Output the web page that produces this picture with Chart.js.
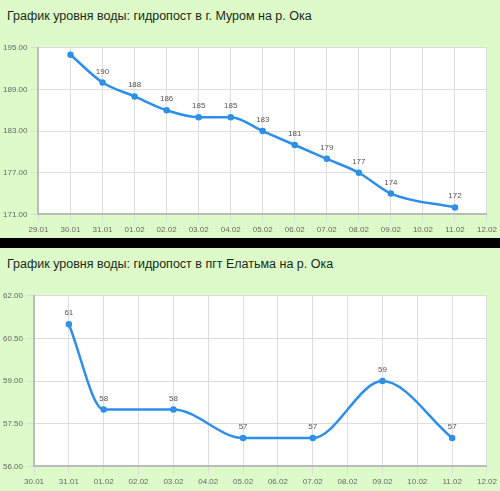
<!DOCTYPE html>
<html>
<head>
<meta charset="utf-8">
<script src="https://cdn.jsdelivr.net/npm/chart.js@4"></script>
<style>
  body { margin: 0; background: #000; font-family: Arial, "Liberation Sans", sans-serif; }
  .box { background: #dcfbc9; position: relative; width: 500px; }
  .title { position: absolute; left: 7px; font-size: 12.5px; color: #1a2a1a; }
  canvas { position: absolute; left: 0; }
</style>
</head>
<body>
<div class="box" style="height:238px">
  <div class="title" style="top:9px">График уровня воды: гидропост в г. Муром на р. Ока</div>
  <div style="position:absolute;left:0;top:40px;width:500px;height:198px"><canvas id="muromChart"></canvas></div>
</div>
<div class="box" style="height:243px;margin-top:10px">
  <div class="title" style="top:9px">График уровня воды: гидропост в пгт Елатьма на р. Ока</div>
  <div style="position:absolute;left:0;top:40px;width:500px;height:202px"><canvas id="elatmaChart"></canvas></div>
</div>
<script>
// Муром
var datyMurom = ["29.01","30.01","31.01","01.02","02.02","03.02","04.02","05.02","06.02","07.02","08.02","09.02","10.02","11.02","12.02"];
var urovenMurom = [null, 194, 190, 188, 186, 185, 185, 183, 181, 179, 177, 174, null, 172, null];
var podpisiMurom = [null, null, "190", "188", "186", "185", "185", "183", "181", "179", "177", "174", null, "172", null];

// Елатьма
var datyElatma = ["30.01","31.01","01.02","02.02","03.02","04.02","05.02","06.02","07.02","08.02","09.02","10.02","11.02","12.02"];
var urovenElatma = [null, 61, 58, null, 58, null, 57, null, 57, null, 59, null, 57, null];
var podpisiElatma = [null, "61", "58", null, "58", null, "57", null, "57", null, "59", null, "57", null];

// подписи над точками
var podpisiPlugin = {
   id: "podpisi",
   afterDatasetsDraw: function (chart) {
      var ctx = chart.ctx;
      var meta = chart.getDatasetMeta(0);
      var texts = chart.options.plugins.podpisi.texts;
      ctx.save();
      ctx.font = "8px Arial";
      ctx.fillStyle = "#555";
      ctx.textAlign = "center";
      meta.data.forEach(function (pt, i) {
         if (texts[i]) ctx.fillText(texts[i], pt.x, pt.y - 9);
      });
      ctx.restore();
   },
};

function makeChart(id, labels, data, texts, min, max, step) {
   return new Chart(document.getElementById(id).getContext("2d"), {
      type: "line",
      data: {
         labels: labels,
         datasets: [
            {
               data: data,
               borderColor: "#2e8fea",
               backgroundColor: "#2aa3c8",
               borderWidth: 2.5,
               pointRadius: 2,
               cubicInterpolationMode: "monotone",
               spanGaps: true,
               fill: false,
            },
         ],
      },
      options: {
         responsive: true,
         maintainAspectRatio: false,
         animation: false,
         layout: { padding: { right: 12, left: 0 } },
         scales: {
            x: {
               offset: false,
               grid: { color: "#ddd" },
               border: { color: "#bbb", width: 2 },
               ticks: { color: "#666", font: { size: 8 }, maxRotation: 0, autoSkip: false },
            },
            y: {
               min: min,
               max: max,
               grid: { color: "#ddd" },
               border: { color: "#bbb", width: 2 },
               ticks: {
                  stepSize: step,
                  color: "#666",
                  font: { size: 8 },
                  callback: function (v) { return v.toFixed(2); },
               },
            },
         },
         plugins: {
            legend: { display: false },
            tooltip: { enabled: false },
            podpisi: { texts: texts },
         },
      },
      plugins: [
         podpisiPlugin,
         {
            id: "whiteArea",
            beforeDraw: function (chart) {
               var a = chart.chartArea;
               chart.ctx.fillStyle = "#fff";
               chart.ctx.fillRect(a.left, a.top, a.right - a.left, a.bottom - a.top);
            },
         },
      ],
   });
}

var muromChart = makeChart("muromChart", datyMurom, urovenMurom, podpisiMurom, 171, 195, 6);
var elatmaChart = makeChart("elatmaChart", datyElatma, urovenElatma, podpisiElatma, 56, 62, 1.5);
</script>
</body>
</html>
